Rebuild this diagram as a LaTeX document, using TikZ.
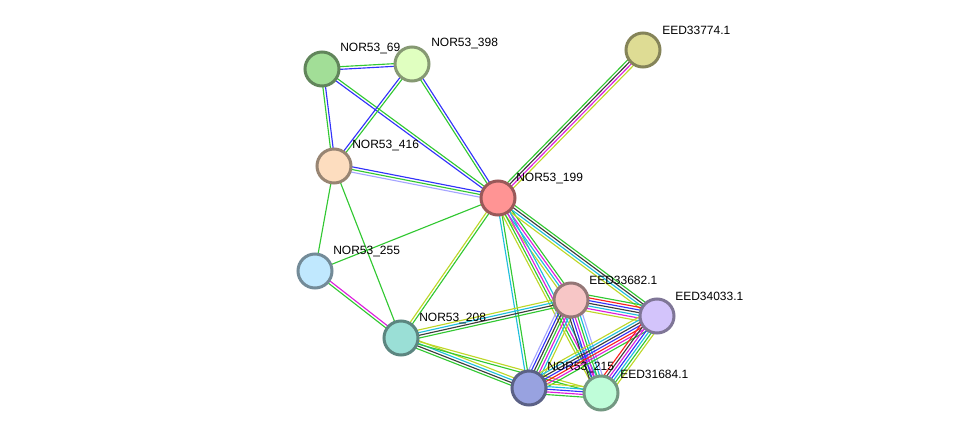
\documentclass[tikz,border=0pt]{standalone}
\usepackage{fontspec}
\setmainfont{Liberation Sans}
\usepackage{tikz}
\usepackage{xcolor}
\usetikzlibrary{calc,backgrounds}
\definecolor{strGreen}{RGB}{50,200,50}
\definecolor{strBlue}{RGB}{50,50,250}
\definecolor{strRed}{RGB}{250,30,30}
\definecolor{strCyan}{RGB}{30,190,220}
\definecolor{strMagenta}{RGB}{220,30,220}
\definecolor{strYellow}{RGB}{190,215,40}
\definecolor{strBlack}{RGB}{60,60,60}
\definecolor{strHomol}{RGB}{165,165,255}
\definecolor{c69}{RGB}{162,222,151}
\definecolor{c398}{RGB}{224,255,192}
\definecolor{c774}{RGB}{222,220,148}
\definecolor{c416}{RGB}{253,221,191}
\definecolor{c199}{RGB}{255,148,148}
\definecolor{c255}{RGB}{192,232,254}
\definecolor{c208}{RGB}{154,223,214}
\definecolor{c682}{RGB}{247,198,198}
\definecolor{c033}{RGB}{211,196,251}
\definecolor{c215}{RGB}{152,162,224}
\definecolor{c684}{RGB}{191,253,217}

% parallel evidence lines between two proteins
\newcommand{\strlink}[3]{%
  \def\nlines{0}%
  \foreach \c in {#3}{\xdef\nlines{\the\numexpr\nlines+1\relax}}%
  \foreach \c [count=\k] in {#3}{%
    \pgfmathsetmacro\off{(\k-(\nlines+1)/2)*2.0}
    \draw[evidence, color=\c] ($(#1)!\off pt!90:(#2)$) -- ($(#2)!\off pt!-90:(#1)$);
  }%
}

\begin{document}
\begin{tikzpicture}[x=0.75pt, y=-0.75pt,
    protein/.style={circle, draw=#1!60!black, fill=#1, line width=2.25pt, minimum size=25.5pt, inner sep=0pt},
    evidence/.style={line width=0.85pt},
    lbl/.style={anchor=south west, inner sep=0pt, font=\fontsize{9}{10}\selectfont}]
    \useasboundingbox (0,0) rectangle (976,439);

    % proteins
    \node[protein=c69] (n69) at (322,69) {};
    \node[protein=c398] (n398) at (412,64) {};
    \node[protein=c774] (e774) at (643,50) {};
    \node[protein=c416] (n416) at (334,166) {};
    \node[protein=c199] (n199) at (498,198) {};
    \node[protein=c255] (n255) at (315,271) {};
    \node[protein=c208] (n208) at (401,338) {};
    \node[protein=c682] (e682) at (571,300) {};
    \node[protein=c033] (e033) at (657,316) {};
    \node[protein=c215] (n215) at (529,388) {};
    \node[protein=c684] (e684) at (601,393) {};

    % labels
    \node[lbl] (l69) at ($(n69)+(18,-15)$) {NOR53\_69};
    \node[lbl] (l398) at ($(n398)+(19,-15)$) {NOR53\_398};
    \node[lbl] (l774) at ($(e774)+(19,-15)$) {EED33774.1};
    \node[lbl] (l416) at ($(n416)+(18,-15)$) {NOR53\_416};
    \node[lbl] (l199) at ($(n199)+(18,-14)$) {NOR53\_199};
    \node[lbl] (l255) at ($(n255)+(18,-14)$) {NOR53\_255};
    \node[lbl] (l208) at ($(n208)+(18,-14)$) {NOR53\_208};
    \node[lbl] (l682) at ($(e682)+(18,-15)$) {EED33682.1};
    \node[lbl] (l033) at ($(e033)+(18,-15)$) {EED34033.1};
    \node[lbl] (l215) at ($(n215)+(18,-15)$) {NOR53\_215};
    \node[lbl] (l684) at ($(e684)+(19,-14)$) {EED31684.1};

    \begin{pgfonlayer}{background}
    \strlink{n69}{n398}{strBlue,strGreen}
    \strlink{n69}{n416}{strGreen,strBlue}
    \strlink{n69}{n199}{strBlue,strGreen}
    \strlink{n398}{n416}{strBlue,strGreen}
    \strlink{n398}{n199}{strGreen,strBlue}
    \strlink{n416}{n199}{strHomol,strGreen,strBlue}
    \strlink{n416}{n255}{strGreen}
    \strlink{n416}{n208}{strGreen}
    \strlink{n255}{n199}{strGreen}
    \strlink{n255}{n208}{strGreen,strMagenta}
    \strlink{n208}{n199}{strGreen,strYellow}
    \strlink{n199}{e774}{strYellow,strMagenta,strBlack,strGreen}
    \strlink{n199}{e682}{strYellow,strCyan,strMagenta,strGreen}
    \strlink{n199}{e033}{strYellow,strCyan,strBlack,strGreen}
    \strlink{n199}{n215}{strCyan,strGreen}
    \strlink{n199}{e684}{strYellow,strGreen,strMagenta,strCyan}
    \strlink{n208}{e682}{strGreen,strBlack,strCyan,strYellow}
    \strlink{n208}{n215}{strGreen,strBlack,strCyan,strYellow}
    \strlink{n208}{e684}{strGreen,strYellow}
    \strlink{e682}{e033}{strYellow,strMagenta,strCyan,strBlack,strBlue,strRed,strGreen}
    \strlink{e682}{n215}{strHomol,strBlue,strBlack,strGreen,strMagenta,strCyan,strYellow}
    \strlink{e682}{e684}{strBlack,strBlue,strMagenta,strGreen,strCyan,strHomol}
    \strlink{e033}{n215}{strYellow,strCyan,strBlack,strBlue,strRed,strMagenta,strGreen}
    \strlink{e033}{e684}{strRed,strBlack,strMagenta,strBlue,strCyan,strGreen,strYellow}
    \strlink{n215}{e684}{strGreen,strMagenta,strBlue,strCyan,strYellow}
    \end{pgfonlayer}
\end{tikzpicture}
\end{document}
